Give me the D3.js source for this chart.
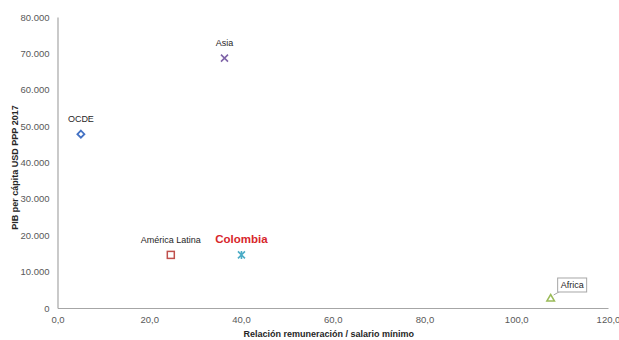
<!DOCTYPE html>
<html>
<head>
<meta charset="utf-8">
<script src="https://cdn.jsdelivr.net/npm/d3@7"></script>
<style>
  body { margin: 0; background: #fff; }
  svg { font-family: "Liberation Sans", Arial, sans-serif; }
</style>
</head>
<body>
<div id="app"></div>
<script>
// data
const regions = ["OCDE", "Asia", "América Latina", "Colombia", "Africa"];
const ratio = [5.1, 36.4, 24.7, 40.1, 107.5];
const gdp = [47800, 68700, 14600, 14600, 2750];
const xTicks = [0, 20, 40, 60, 80, 100, 120];
const yTicks = [0, 10000, 20000, 30000, 40000, 50000, 60000, 70000, 80000];

const W = 619, H = 340;
const margin = { left: 57.5, right: 11, top: 17, bottom: 32 };

const svg = d3.select("#app").append("svg")
	.attr("width", W)
	.attr("height", H);

let x = d3.scaleLinear().domain([0, 120]).range([margin.left, W - margin.right]);
let y = d3.scaleLinear().domain([0, 80000]).range([H - margin.bottom, margin.top]);

const fmtX = d => d3.format(".1f")(d).replace(".", ",");
const fmtY = d => d === 0 ? "0" : d3.format(",.0f")(d).replace(/,/g, ".");

// axes
let gx = svg.append("g")
	.attr("transform", "translate(0," + y(0) + ")")
	.call(d3.axisBottom(x).tickValues(xTicks).tickFormat(fmtX).tickSize(0).tickPadding(8));
gx.select(".domain").attr("stroke", "#a6a6a6").attr("stroke-width", 1.2);
gx.selectAll("text").attr("fill", "#595959").style("font-size", "9.5px");

let gy = svg.append("g")
	.attr("transform", "translate(" + x(0) + ",0)")
	.call(d3.axisLeft(y).tickValues(yTicks).tickFormat(fmtY).tickSize(0).tickPadding(8));
gy.select(".domain").attr("stroke", "#a6a6a6").attr("stroke-width", 1.2);
gy.selectAll("text").attr("fill", "#595959").style("font-size", "9.5px");

// axis titles
svg.append("text")
	.attr("x", (x(0) + x(120)) / 2 - 4)
	.attr("y", 337)
	.attr("text-anchor", "middle")
	.style("font-size", "9px")
	.style("font-weight", "bold")
	.attr("fill", "#262626")
	.text("Relación remuneración / salario mínimo");

svg.append("text")
	.attr("transform", "translate(18," + ((y(0) + y(80000)) / 2 + 5) + ") rotate(-90)")
	.attr("text-anchor", "middle")
	.style("font-size", "9px")
	.style("font-weight", "bold")
	.attr("fill", "#262626")
	.text("PIB per cápita USD PPP 2017");

const pts = regions.map((r, i) => ({ name: r, x: ratio[i], y: gdp[i] }));
const colors = ["#4472c4", "#7f64a8", "#c0504d", "#4bacc6", "#9bbb59"];

// markers
let marks = svg.selectAll(".mark")
	.data(pts)
	.enter()
	.append("g")
		.attr("class", "mark")
		.attr("transform", d => "translate(" + x(d.x) + "," + y(d.y) + ")");

marks.each(function(d, i) {
	let g = d3.select(this);
	let c = colors[i];
	if (i === 0) {
		g.append("path").attr("d", "M0,-3.5L3.5,0L0,3.5L-3.5,0Z")
			.attr("fill", "none").attr("stroke", c).attr("stroke-width", 1.8);
	} else if (i === 1) {
		g.append("path").attr("d", "M-3.5,-3.5L3.5,3.5M3.5,-3.5L-3.5,3.5")
			.attr("stroke", c).attr("stroke-width", 1.6);
	} else if (i === 2) {
		g.append("rect").attr("x", -3.5).attr("y", -3.5).attr("width", 7).attr("height", 7)
			.attr("fill", "none").attr("stroke", c).attr("stroke-width", 1.5);
	} else if (i === 3) {
		g.append("path").attr("d", "M-3.5,-3.5L3.5,3.5M3.5,-3.5L-3.5,3.5M0,-4L0,4")
			.attr("stroke", c).attr("stroke-width", 1.6);
	} else {
		g.append("path").attr("d", "M0,-3.5L3.8,3L-3.8,3Z")
			.attr("fill", "none").attr("stroke", c).attr("stroke-width", 1.5);
	}
});

// labels
const lbl = { 0: [0, -12], 1: [0, -12], 2: [0, -12] };
pts.forEach((d, i) => {
	if (lbl[i]) {
		svg.append("text")
			.attr("x", x(d.x) + lbl[i][0])
			.attr("y", y(d.y) + lbl[i][1])
			.attr("text-anchor", "middle")
			.style("font-size", "9px")
			.attr("fill", "#262626")
			.text(d.name);
	}
});

// Colombia, highlighted
svg.append("text")
	.attr("x", x(pts[3].x))
	.attr("y", y(pts[3].y) - 12)
	.attr("text-anchor", "middle")
	.style("font-size", "11.5px")
	.style("font-weight", "bold")
	.attr("fill", "#d7262b")
	.text(pts[3].name);

// Africa callout
let ax = x(pts[4].x), ay = y(pts[4].y);
svg.append("line")
	.attr("x1", ax + 3).attr("y1", ay - 3)
	.attr("x2", ax + 10).attr("y2", ay - 7)
	.attr("stroke", "#a6a6a6").attr("stroke-width", 1);
svg.append("rect")
	.attr("x", ax + 7).attr("y", ay - 20)
	.attr("width", 29).attr("height", 14)
	.attr("fill", "#fff").attr("stroke", "#a6a6a6").attr("stroke-width", 1);
svg.append("text")
	.attr("x", ax + 21.5).attr("y", ay - 10)
	.attr("text-anchor", "middle")
	.style("font-size", "9px")
	.attr("fill", "#262626")
	.text(pts[4].name);
</script>
</body>
</html>
